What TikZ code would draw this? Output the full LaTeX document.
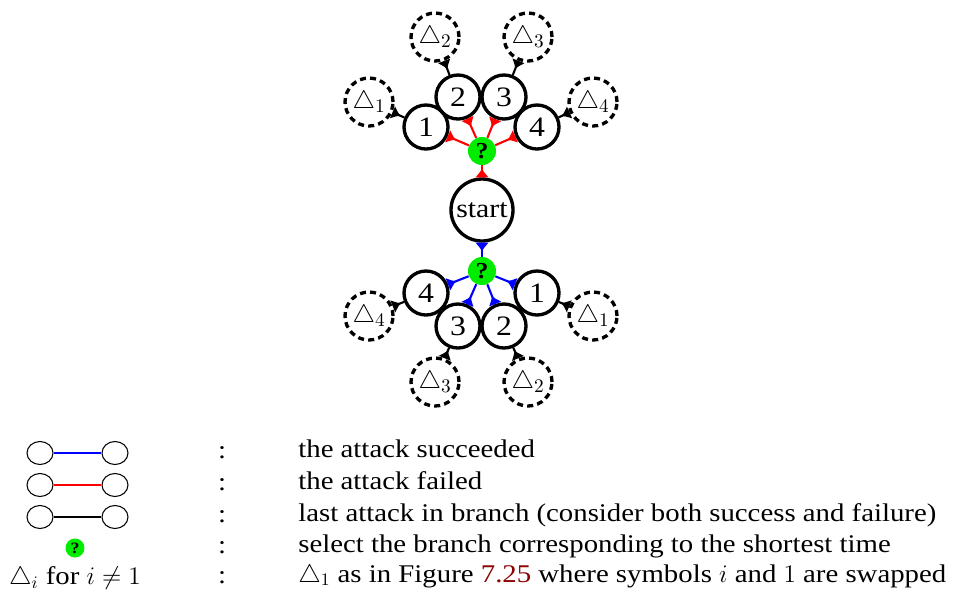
\documentclass[tikz,border=0pt]{standalone}
\usepackage{amsmath,amssymb}
\usepackage{xcolor}
\usepackage{fontspec}
\setmainfont{Liberation Serif}[FakeStretch=1.13]
\usepackage{tikz}
\usepackage{tkz-euclide}
\usetikzlibrary{arrows.meta,positioning,shapes.geometric}
\definecolor{figred}{rgb}{0.55,0.0,0.0}
\definecolor{qgreen}{rgb}{0.0,0.93,0.0}

\tikzset{
  state/.style={circle,draw,line width=1.9pt,minimum size=0.88cm,inner sep=0pt,font=\fontsize{16}{16}\selectfont},
  startstate/.style={state,minimum size=1.24cm,font=\fontsize{15}{15}\selectfont},
  subtree/.style={circle,draw,line width=1.9pt,dash pattern=on 3.4pt off 2.4pt,minimum size=0.96cm,inner sep=0pt,font=\fontsize{15}{15}\selectfont},
  choice/.style={circle,fill=qgreen,minimum size=0.56cm,inner sep=0pt,font=\fontsize{13}{13}\bfseries},
  fail/.style={red,line width=1.2pt,-{Latex[reversed,length=5pt,width=8pt]}},
  success/.style={blue,line width=1.2pt,-{Latex[reversed,length=5pt,width=8pt]}},
  last/.style={black,line width=1.2pt,-{Latex[reversed,length=5pt,width=8pt]}},
  legendball/.style={ellipse,draw,line width=0.6pt,minimum width=0.52cm,minimum height=0.46cm,inner sep=0pt},
  legendtext/.style={anchor=mid west,inner sep=0pt,font=\fontsize{14.5}{17}\selectfont}
}

\begin{document}
\begin{tikzpicture}
\useasboundingbox (0,0) rectangle (19.2,-11.88);

% tree
\tkzDefPoint(9.64,-4.2){st};
\node (start) at (st)[startstate]{start};

% failure side
\tkzDefPoint(9.64,-3.02){qf};
\node (qtop) at (qf)[choice]{?};
\node (f1) at (8.52,-2.54)[state]{1};
\node (f2) at (9.16,-1.94)[state]{2};
\node (f3) at (10.08,-1.94)[state]{3};
\node (f4) at (10.74,-2.54)[state]{4};
\node (df1) at (7.38,-2.04)[subtree]{$\triangle_1$};
\node (df2) at (8.70,-0.74)[subtree]{$\triangle_2$};
\node (df3) at (10.56,-0.74)[subtree]{$\triangle_3$};
\node (df4) at (11.86,-2.04)[subtree]{$\triangle_4$};

\draw[fail] (qtop) -- (start);
\foreach \i in {1,2,3,4}{
  \draw[fail] (qtop) -- (f\i);
  \draw[last] (f\i) -- (df\i);
}

% success side
\tkzDefPoint(9.64,-5.42){qs};
\node (qbot) at (qs)[choice]{?};
\node (s4) at (8.52,-5.86)[state]{4};
\node (s3) at (9.16,-6.52)[state]{3};
\node (s2) at (10.08,-6.52)[state]{2};
\node (s1) at (10.74,-5.86)[state]{1};
\node (ds4) at (7.38,-6.32)[subtree]{$\triangle_4$};
\node (ds3) at (8.70,-7.64)[subtree]{$\triangle_3$};
\node (ds2) at (10.56,-7.64)[subtree]{$\triangle_2$};
\node (ds1) at (11.86,-6.32)[subtree]{$\triangle_1$};

\draw[success] (qbot) -- (start);
\foreach \i in {1,2,3,4}{
  \draw[success] (qbot) -- (s\i);
  \draw[last] (s\i) -- (ds\i);
}

% legend
\node (la) at (0.80,-9.06)[legendball]{};
\node (lb) at (2.30,-9.06)[legendball]{};
\draw[blue,line width=1.5pt] (la) -- (lb);
\node (ma) at (0.80,-9.70)[legendball]{};
\node (mb) at (2.30,-9.70)[legendball]{};
\draw[red,line width=1.5pt] (ma) -- (mb);
\node (na) at (0.80,-10.34)[legendball]{};
\node (nb) at (2.30,-10.34)[legendball]{};
\draw[black,line width=1.5pt] (na) -- (nb);
\node (lq) at (1.50,-10.96)[choice,minimum size=0.38cm,font=\bfseries\small]{?};
\node (ldelta) at (1.50,-11.56)[font=\fontsize{14.5}{17}\selectfont]{$\triangle_i$ for $i \neq 1$};

\foreach \y in {-9.06,-9.70,-10.34,-10.96,-11.56}
  \node at (4.44,\y)[font=\fontsize{14.5}{17}\selectfont]{:};

\node (t1) at (5.96,-9.06)[legendtext]{the attack succeeded};
\node (t2) at (5.96,-9.70)[legendtext]{the attack failed};
\node (t3) at (5.96,-10.34)[legendtext]{last attack in branch (consider both success and failure)};
\node (t4) at (5.96,-10.96)[legendtext]{select the branch corresponding to the shortest time};
\node (t5) at (5.96,-11.56)[legendtext]{$\triangle_1$ as in Figure \textcolor{figred}{7.25} where symbols $i$ and $1$ are swapped};
\end{tikzpicture}
\end{document}
